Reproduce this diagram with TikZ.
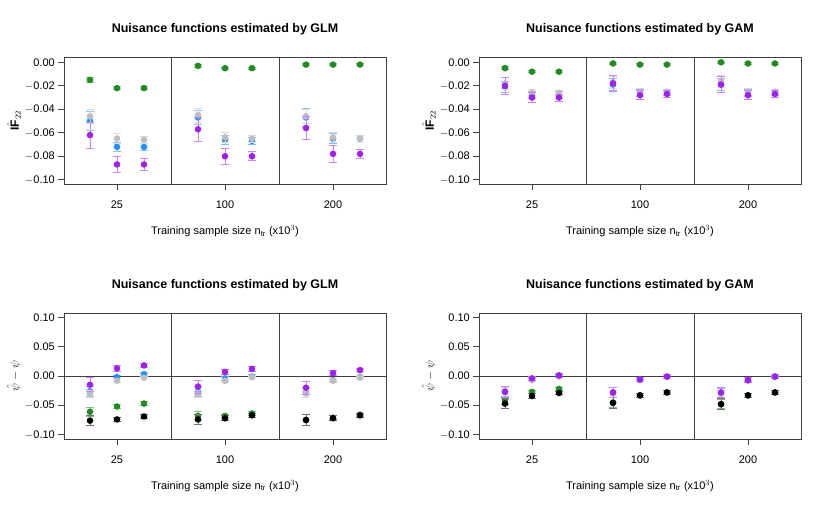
\documentclass[tikz,border=0pt]{standalone}
\usepackage{fontspec}
\setmainfont{Liberation Sans}
\setsansfont{Liberation Sans}
\definecolor{gr}{RGB}{34,139,34}
\definecolor{bl}{RGB}{30,144,255}
\definecolor{gy}{RGB}{190,190,190}
\definecolor{pu}{RGB}{160,32,240}
\definecolor{bk}{RGB}{0,0,0}
\tikzset{axis/.style={draw=black!75,line width=0.6pt},
 tick/.style={font=\fontsize{11}{13}\selectfont,inner sep=0pt},
 lab/.style={font=\fontsize{11}{13}\selectfont,inner sep=0pt},
 ttl/.style={font=\bfseries\fontsize{12.5}{14}\selectfont,inner sep=0pt}}
\newcommand\frm[4]{%
 \draw[axis] (0,#1) rectangle (322,#2);
 \draw[axis] (107,#1)--(107,#2) (215,#1)--(215,#2);
 \foreach \x/\l in {53/25,161/100,269/200}{\draw[axis] (\x,#1)--++(0pt,-6pt);
   \path (\x,#1) ++(0pt,-21pt) node[tick]{\l};}
 \path (161,#1) ++(0pt,-47pt) node[lab]{Training sample size n$_{\mathrm{tr}}$ (x10$^3$)};
 \path (161,#2) ++(0pt,28pt) node[ttl]{#3};
 \path (-50pt,{(#1+#2)/2}) node[rotate=90,lab]{#4};
}
\newcommand\yt[2]{\draw[axis] (0,#1)--++(-6pt,0pt); \path (0,#1) ++(-9pt,0pt) node[tick,anchor=east]{#2};}
\newcommand\dpt[4]{%
 \draw[#4!55,line width=0.9pt] (#1,{#2-#3})--(#1,{#2+#3}) (#1-4,{#2-#3})--(#1+4,{#2-#3}) (#1-4,{#2+#3})--(#1+4,{#2+#3});
 \fill[#4] (#1,#2) circle[radius=3.3pt];}
\begin{document}
\begin{tikzpicture}[x=1pt,y=1pt]
\useasboundingbox (0,0) rectangle (830,-511);
% ---------- top left
\begin{scope}[shift={(64,-62.3)},y=1174pt]
\frm{-0.1037}{0.0045}{Nuisance functions estimated by GLM}{\large$\hat{\hbox{\bfseries IF}}_{22}$}
\foreach \v/\l in {0/0.00,-0.02/$-$0.02,-0.04/$-$0.04,-0.06/$-$0.06,-0.08/$-$0.08,-0.1/$-$0.10}{\yt{\v}{\l}}
\dpt{26}{-0.015}{0.002}{gr}\dpt{26}{-0.050}{0.008}{bl}\dpt{26}{-0.046}{0.006}{gy}\dpt{26}{-0.062}{0.011}{pu}
\dpt{53}{-0.022}{0.0015}{gr}\dpt{53}{-0.072}{0.004}{bl}\dpt{53}{-0.065}{0.004}{gy}\dpt{53}{-0.087}{0.007}{pu}
\dpt{80}{-0.022}{0.0015}{gr}\dpt{80}{-0.072}{0.003}{bl}\dpt{80}{-0.066}{0.003}{gy}\dpt{80}{-0.087}{0.005}{pu}
\dpt{134}{-0.003}{0.001}{gr}\dpt{134}{-0.047}{0.006}{bl}\dpt{134}{-0.045}{0.006}{gy}\dpt{134}{-0.057}{0.010}{pu}
\dpt{161}{-0.005}{0.001}{gr}\dpt{161}{-0.066}{0.004}{bl}\dpt{161}{-0.064}{0.004}{gy}\dpt{161}{-0.080}{0.007}{pu}
\dpt{188}{-0.005}{0.001}{gr}\dpt{188}{-0.067}{0.003}{bl}\dpt{188}{-0.065}{0.003}{gy}\dpt{188}{-0.080}{0.004}{pu}
\dpt{242}{-0.002}{0.001}{gr}\dpt{242}{-0.047}{0.008}{bl}\dpt{242}{-0.046}{0.006}{gy}\dpt{242}{-0.056}{0.010}{pu}
\dpt{269}{-0.002}{0.001}{gr}\dpt{269}{-0.065}{0.004}{bl}\dpt{269}{-0.064}{0.004}{gy}\dpt{269}{-0.078}{0.007}{pu}
\dpt{296}{-0.002}{0.001}{gr}\dpt{296}{-0.065}{0.003}{bl}\dpt{296}{-0.065}{0.003}{gy}\dpt{296}{-0.078}{0.004}{pu}
\end{scope}
% ---------- top right
\begin{scope}[shift={(479,-62.3)},y=1174pt]
\frm{-0.1037}{0.0045}{Nuisance functions estimated by GAM}{\large$\hat{\hbox{\bfseries IF}}_{22}$}
\foreach \v/\l in {0/0.00,-0.02/$-$0.02,-0.04/$-$0.04,-0.06/$-$0.06,-0.08/$-$0.08,-0.1/$-$0.10}{\yt{\v}{\l}}
\dpt{26}{-0.005}{0.0015}{gr}\dpt{26}{-0.021}{0.005}{bl}\dpt{26}{-0.018}{0.005}{gy}\dpt{26}{-0.020}{0.007}{pu}
\dpt{53}{-0.008}{0.001}{gr}\dpt{53}{-0.028}{0.003}{bl}\dpt{53}{-0.026}{0.003}{gy}\dpt{53}{-0.030}{0.004}{pu}
\dpt{80}{-0.008}{0.001}{gr}\dpt{80}{-0.028}{0.003}{bl}\dpt{80}{-0.026}{0.002}{gy}\dpt{80}{-0.030}{0.003}{pu}
\dpt{134}{-0.001}{0.001}{gr}\dpt{134}{-0.019}{0.005}{bl}\dpt{134}{-0.017}{0.005}{gy}\dpt{134}{-0.018}{0.007}{pu}
\dpt{161}{-0.002}{0.001}{gr}\dpt{161}{-0.026}{0.003}{bl}\dpt{161}{-0.025}{0.003}{gy}\dpt{161}{-0.028}{0.004}{pu}
\dpt{188}{-0.002}{0.001}{gr}\dpt{188}{-0.026}{0.002}{bl}\dpt{188}{-0.025}{0.002}{gy}\dpt{188}{-0.027}{0.003}{pu}
\dpt{242}{0}{0.001}{gr}\dpt{242}{-0.019}{0.005}{bl}\dpt{242}{-0.016}{0.005}{gy}\dpt{242}{-0.019}{0.007}{pu}
\dpt{269}{-0.001}{0.001}{gr}\dpt{269}{-0.026}{0.003}{bl}\dpt{269}{-0.025}{0.003}{gy}\dpt{269}{-0.028}{0.004}{pu}
\dpt{296}{-0.001}{0.001}{gr}\dpt{296}{-0.026}{0.002}{bl}\dpt{296}{-0.025}{0.002}{gy}\dpt{296}{-0.027}{0.003}{pu}
\end{scope}
% ---------- bottom left
\begin{scope}[shift={(64,-376)},y=587pt]
\frm{-0.107}{0.107}{Nuisance functions estimated by GLM}{\large$\hat\psi-\psi$}
\foreach \v/\l in {0.1/0.10,0.05/0.05,0/0.00,-0.05/$-$0.05,-0.1/$-$0.10}{\yt{\v}{\l}}
\draw[axis] (0,0)--(322,0);
\dpt{26}{-0.061}{0.008}{gr}\dpt{26}{-0.076}{0.009}{bk}\dpt{26}{-0.026}{0.008}{bl}\dpt{26}{-0.031}{0.006}{gy}\dpt{26}{-0.015}{0.012}{pu}
\dpt{53}{-0.052}{0.003}{gr}\dpt{53}{-0.074}{0.004}{bk}\dpt{53}{-0.002}{0.003}{bl}\dpt{53}{-0.008}{0.003}{gy}\dpt{53}{0.013}{0.005}{pu}
\dpt{80}{-0.047}{0.003}{gr}\dpt{80}{-0.069}{0.003}{bk}\dpt{80}{0.003}{0.003}{bl}\dpt{80}{-0.003}{0.002}{gy}\dpt{80}{0.018}{0.004}{pu}
\dpt{134}{-0.068}{0.008}{gr}\dpt{134}{-0.074}{0.009}{bk}\dpt{134}{-0.026}{0.008}{bl}\dpt{134}{-0.031}{0.006}{gy}\dpt{134}{-0.018}{0.011}{pu}
\dpt{161}{-0.068}{0.003}{gr}\dpt{161}{-0.072}{0.004}{bk}\dpt{161}{-0.004}{0.003}{bl}\dpt{161}{-0.008}{0.003}{gy}\dpt{161}{0.007}{0.005}{pu}
\dpt{188}{-0.064}{0.003}{gr}\dpt{188}{-0.067}{0.003}{bk}\dpt{188}{-0.001}{0.003}{bl}\dpt{188}{-0.002}{0.002}{gy}\dpt{188}{0.012}{0.004}{pu}
\dpt{242}{-0.075}{0.009}{gr}\dpt{242}{-0.075}{0.009}{bk}\dpt{242}{-0.028}{0.008}{bl}\dpt{242}{-0.030}{0.006}{gy}\dpt{242}{-0.020}{0.011}{pu}
\dpt{269}{-0.071}{0.003}{gr}\dpt{269}{-0.072}{0.004}{bk}\dpt{269}{-0.007}{0.003}{bl}\dpt{269}{-0.008}{0.003}{gy}\dpt{269}{0.005}{0.004}{pu}
\dpt{296}{-0.066}{0.003}{gr}\dpt{296}{-0.067}{0.003}{bk}\dpt{296}{-0.002}{0.002}{bl}\dpt{296}{-0.003}{0.002}{gy}\dpt{296}{0.010}{0.003}{pu}
\end{scope}
% ---------- bottom right
\begin{scope}[shift={(479,-376)},y=587pt]
\frm{-0.107}{0.107}{Nuisance functions estimated by GAM}{\large$\hat\psi-\psi$}
\foreach \v/\l in {0.1/0.10,0.05/0.05,0/0.00,-0.05/$-$0.05,-0.1/$-$0.10}{\yt{\v}{\l}}
\draw[axis] (0,0)--(322,0);
\dpt{26}{-0.040}{0.008}{gr}\dpt{26}{-0.047}{0.009}{bk}\dpt{26}{-0.027}{0.008}{bl}\dpt{26}{-0.025}{0.006}{gy}\dpt{26}{-0.027}{0.010}{pu}
\dpt{53}{-0.027}{0.003}{gr}\dpt{53}{-0.034}{0.004}{bk}\dpt{53}{-0.005}{0.003}{bl}\dpt{53}{-0.007}{0.003}{gy}\dpt{53}{-0.004}{0.004}{pu}
\dpt{80}{-0.022}{0.003}{gr}\dpt{80}{-0.029}{0.003}{bk}\dpt{80}{0}{0.002}{bl}\dpt{80}{-0.001}{0.002}{gy}\dpt{80}{0.001}{0.003}{pu}
\dpt{134}{-0.045}{0.008}{gr}\dpt{134}{-0.046}{0.009}{bk}\dpt{134}{-0.028}{0.008}{bl}\dpt{134}{-0.030}{0.006}{gy}\dpt{134}{-0.028}{0.009}{pu}
\dpt{161}{-0.033}{0.003}{gr}\dpt{161}{-0.033}{0.004}{bk}\dpt{161}{-0.006}{0.003}{bl}\dpt{161}{-0.007}{0.003}{gy}\dpt{161}{-0.006}{0.004}{pu}
\dpt{188}{-0.028}{0.003}{gr}\dpt{188}{-0.028}{0.003}{bk}\dpt{188}{-0.001}{0.002}{bl}\dpt{188}{-0.001}{0.002}{gy}\dpt{188}{-0.001}{0.003}{pu}
\dpt{242}{-0.048}{0.008}{gr}\dpt{242}{-0.048}{0.009}{bk}\dpt{242}{-0.029}{0.008}{bl}\dpt{242}{-0.031}{0.006}{gy}\dpt{242}{-0.028}{0.009}{pu}
\dpt{269}{-0.033}{0.003}{gr}\dpt{269}{-0.033}{0.004}{bk}\dpt{269}{-0.007}{0.003}{bl}\dpt{269}{-0.008}{0.003}{gy}\dpt{269}{-0.007}{0.004}{pu}
\dpt{296}{-0.028}{0.003}{gr}\dpt{296}{-0.028}{0.003}{bk}\dpt{296}{-0.001}{0.002}{bl}\dpt{296}{-0.002}{0.002}{gy}\dpt{296}{-0.001}{0.003}{pu}
\end{scope}
\end{tikzpicture}
\end{document}
